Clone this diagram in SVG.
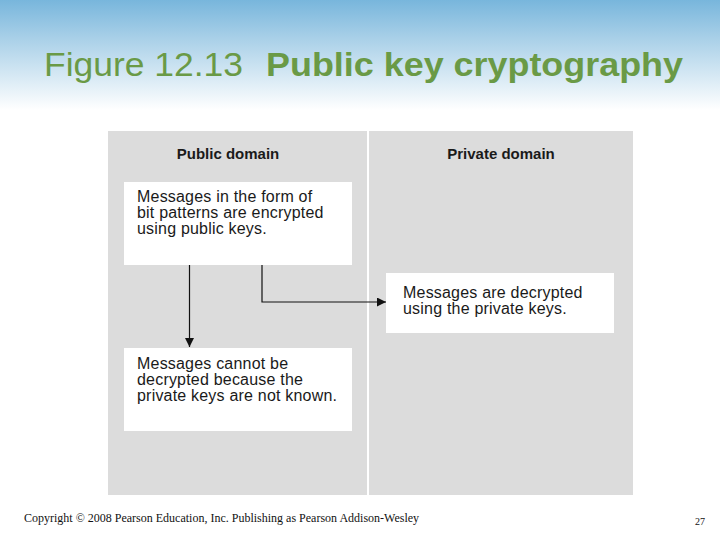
<svg xmlns="http://www.w3.org/2000/svg" width="720" height="540" viewBox="0 0 720 540">
<defs>
<linearGradient id="bg" x1="0" y1="0" x2="0" y2="1">
<stop offset="0" stop-color="#78b6dc"/>
<stop offset="0.35" stop-color="#a9d0e8"/>
<stop offset="1" stop-color="#ffffff"/>
</linearGradient>
<marker id="arr" viewBox="0 0 10 10" refX="10" refY="5" markerWidth="9" markerHeight="9" markerUnits="userSpaceOnUse" orient="auto">
<path d="M0,0 L10,5 L0,10 z" fill="#111"/>
</marker>
<style>
.box{fill:#ffffff}
.t{font-family:"Liberation Sans",Arial,sans-serif;font-size:16px;letter-spacing:0.2px;fill:#1a1a1a}
.h{font-family:"Liberation Sans",Arial,sans-serif;font-size:15px;font-weight:bold;fill:#1a1a1a;text-anchor:middle}
.c{stroke:#111;stroke-width:1.2;fill:none;marker-end:url(#arr)}
</style>
</defs>
<rect width="720" height="540" fill="#ffffff"/>
<rect width="720" height="110" fill="url(#bg)"/>
<text x="44" y="76" font-family="Liberation Sans,Arial,sans-serif" font-size="34" fill="#6a9a46"><tspan textLength="199" lengthAdjust="spacingAndGlyphs">Figure 12.13</tspan><tspan x="266" font-weight="bold" textLength="417" lengthAdjust="spacingAndGlyphs">Public key cryptography</tspan></text>
<g id="panel">
<rect x="108" y="131" width="525" height="364" fill="#dcdcdc"/>
<rect x="367" y="131" width="2" height="364" fill="#ffffff"/>
<text class="h" x="228" y="159">Public domain</text>
<text class="h" x="501" y="159">Private domain</text>
</g>
<g id="n1">
<rect class="box" x="124" y="182" width="228" height="83"/>
<text class="t" x="137" y="202">Messages in the form of</text>
<text class="t" x="137" y="218">bit patterns are encrypted</text>
<text class="t" x="137" y="234">using public keys.</text>
</g>
<g id="n2">
<rect class="box" x="386" y="273" width="228" height="60"/>
<text class="t" x="403" y="298">Messages are decrypted</text>
<text class="t" x="403" y="314">using the private keys.</text>
</g>
<g id="n3">
<rect class="box" x="124" y="348" width="228" height="83"/>
<text class="t" x="137" y="369">Messages cannot be</text>
<text class="t" x="137" y="385">decrypted because the</text>
<text class="t" x="137" y="401">private keys are not known.</text>
</g>
<g id="connectors">
<path class="c" d="M189.5,265 V347"/>
<path class="c" d="M262,265 V302 H386"/>
</g>
<text x="24" y="522" font-family="Liberation Serif,Times New Roman,serif" font-size="12" fill="#111">Copyright © 2008 Pearson Education, Inc. Publishing as Pearson Addison-Wesley</text>
<text x="695" y="525" font-family="Liberation Serif,Times New Roman,serif" font-size="10" fill="#111">27</text>
</svg>
